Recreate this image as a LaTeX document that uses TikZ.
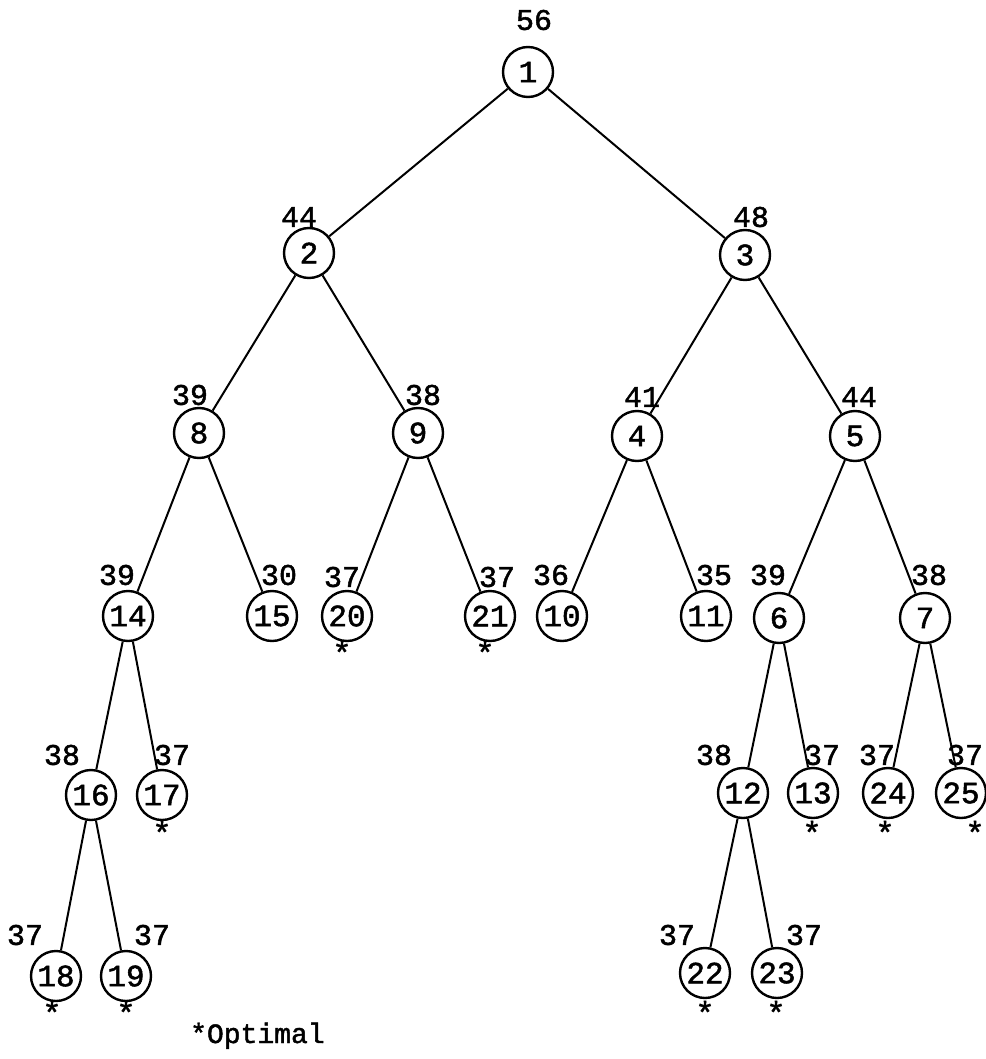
\documentclass[tikz,border=0pt]{standalone}
\usepackage{fontspec}
\usepackage{tikz}
\usetikzlibrary{positioning}
\newfontfamily\typewriter[FakeBold=1.6]{Liberation Mono}
\tikzstyle{bnode} = [circle, draw=black, line width=2.4pt, minimum size=50pt, inner sep=0pt, font=\typewriter\fontsize{31}{34}\selectfont]
\tikzstyle{bound} = [inner sep=0pt, font=\typewriter\fontsize{30}{32}\selectfont]
\tikzstyle{opt} = [inner sep=0pt, anchor=base, font=\typewriter\fontsize{32}{34}\selectfont]
\tikzstyle{branch} = [line width=2pt]

\begin{document}
\begin{tikzpicture}[x=1pt, y=-1pt]
\useasboundingbox (0,0) rectangle (985,1059);

% ===== TREE NODES =====
\node (n1) [bnode] at (528,72) {1};
\node (n2) [bnode] at (309,253) {2};
\node (n3) [bnode] at (745,255) {3};
\node (n8) [bnode] at (199,433) {8};
\node (n9) [bnode] at (418,433) {9};
\node (n4) [bnode] at (637,436) {4};
\node (n5) [bnode] at (855,436) {5};
\node (n14) [bnode] at (128,616) {14};
\node (n15) [bnode] at (272,616) {15};
\node (n20) [bnode] at (347,616) {20};
\node (n21) [bnode] at (490,616) {21};
\node (n10) [bnode] at (562,616) {10};
\node (n11) [bnode] at (706,616) {11};
\node (n6) [bnode] at (779,618) {6};
\node (n7) [bnode] at (925,618) {7};
\node (n16) [bnode] at (91,795) {16};
\node (n17) [bnode] at (162,795) {17};
\node (n12) [bnode] at (743,793) {12};
\node (n13) [bnode] at (813,793) {13};
\node (n24) [bnode] at (888,793) {24};
\node (n25) [bnode] at (961,793) {25};
\node (n18) [bnode] at (56,976) {18};
\node (n19) [bnode] at (126,976) {19};
\node (n22) [bnode] at (705,973) {22};
\node (n23) [bnode] at (777,973) {23};

% ===== BOUNDS =====
\node (b1) [bound] at (534,20) {56};
\node (b2) [bound] at (299,217) {44};
\node (b3) [bound] at (751,217) {48};
\node (b8) [bound] at (190,395) {39};
\node (b9) [bound] at (423,395) {38};
\node (b4) [bound] at (642,397) {41};
\node (b5) [bound] at (859,397) {44};
\node (b14) [bound] at (117,575) {39};
\node (b15) [bound] at (279,575) {30};
\node (b20) [bound] at (342,577) {37};
\node (b21) [bound] at (497,577) {37};
\node (b10) [bound] at (551,575) {36};
\node (b11) [bound] at (714,575) {35};
\node (b6) [bound] at (768,575) {39};
\node (b7) [bound] at (929,575) {38};
\node (b16) [bound] at (62,755) {38};
\node (b17) [bound] at (172,755) {37};
\node (b12) [bound] at (714,755) {38};
\node (b13) [bound] at (822,755) {37};
\node (b24) [bound] at (877,755) {37};
\node (b25) [bound] at (965,755) {37};
\node (b18) [bound] at (25,935) {37};
\node (b19) [bound] at (152,935) {37};
\node (b22) [bound] at (677,935) {37};
\node (b23) [bound] at (804,935) {37};

% ===== OPTIMAL MARKS =====
\node (s20) [opt] at (342,664) {*};
\node (s21) [opt] at (485,664) {*};
\node (s17) [opt] at (162,844) {*};
\node (s13) [opt] at (812,844) {*};
\node (s24) [opt] at (885,844) {*};
\node (s25) [opt] at (975,844) {*};
\node (s18) [opt] at (52,1024) {*};
\node (s19) [opt] at (126,1024) {*};
\node (s22) [opt] at (705,1024) {*};
\node (s23) [opt] at (776,1024) {*};
\node (legend) [opt, anchor=base west, font=\typewriter\fontsize{28}{30}\selectfont] at (190,1043) {*Optimal};

% ===== BRANCHES =====
\draw [branch] (n1) -- (n2);
\draw [branch] (n1) -- (n3);
\draw [branch] (n2) -- (n8);
\draw [branch] (n2) -- (n9);
\draw [branch] (n3) -- (n4);
\draw [branch] (n3) -- (n5);
\draw [branch] (n8) -- (n14);
\draw [branch] (n8) -- (n15);
\draw [branch] (n9) -- (n20);
\draw [branch] (n9) -- (n21);
\draw [branch] (n4) -- (n10);
\draw [branch] (n4) -- (n11);
\draw [branch] (n5) -- (n6);
\draw [branch] (n5) -- (n7);
\draw [branch] (n14) -- (n16);
\draw [branch] (n14) -- (n17);
\draw [branch] (n6) -- (n12);
\draw [branch] (n6) -- (n13);
\draw [branch] (n7) -- (n24);
\draw [branch] (n7) -- (n25);
\draw [branch] (n16) -- (n18);
\draw [branch] (n16) -- (n19);
\draw [branch] (n12) -- (n22);
\draw [branch] (n12) -- (n23);

\end{tikzpicture}
\end{document}
